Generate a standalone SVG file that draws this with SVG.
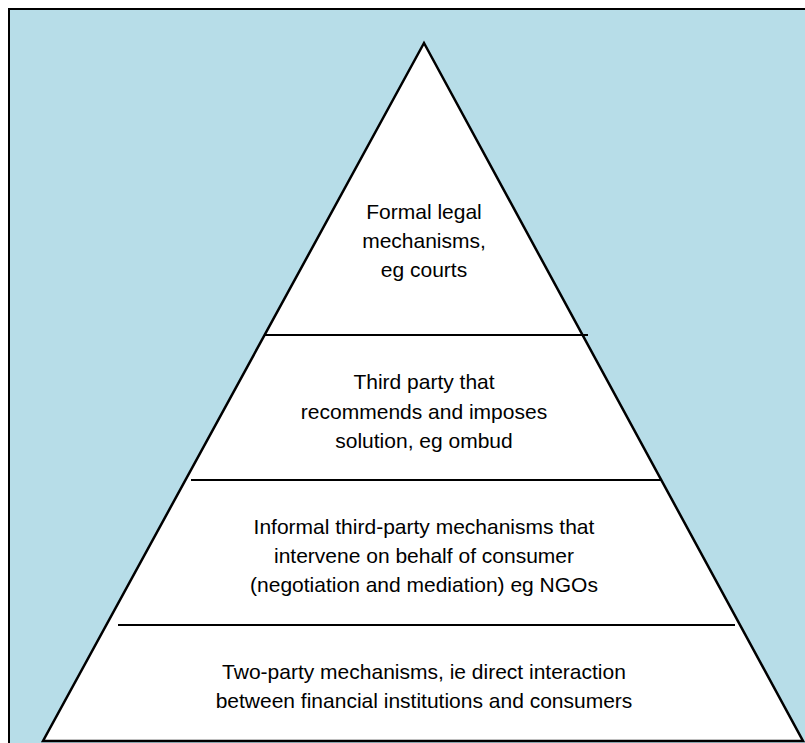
<svg xmlns="http://www.w3.org/2000/svg" width="805" height="743" viewBox="0 0 805 743">
<style>
.t{font-family:"Liberation Sans",Arial,sans-serif;font-size:21px;fill:#000;text-anchor:middle}
.ln{stroke:#000;stroke-width:2;fill:none}
</style>
<rect width="805" height="743" fill="#fff"/>
<rect x="9" y="9" width="800" height="740" fill="#b7dde8" stroke="#000" stroke-width="2"/>
<g id="pyramid">
<polygon points="424,43 43,741 803,741" fill="#fff" stroke="#000" stroke-width="2.5" stroke-linejoin="miter"/>
</g>
<g id="connectors">
<line class="ln" x1="265" y1="335" x2="588" y2="335"/>
<line class="ln" x1="191" y1="480" x2="662" y2="480"/>
<line class="ln" x1="118" y1="625" x2="735" y2="625"/>
</g>
<g id="tier1">
<text class="t" x="424" y="219">Formal legal</text>
<text class="t" x="424" y="248">mechanisms,</text>
<text class="t" x="424" y="277">eg courts</text>
</g>
<g id="tier2">
<text class="t" x="424" y="389">Third party that</text>
<text class="t" x="424" y="419">recommends and imposes</text>
<text class="t" x="424" y="448">solution, eg ombud</text>
</g>
<g id="tier3">
<text class="t" x="424" y="534">Informal third-party mechanisms that</text>
<text class="t" x="424" y="563">intervene on behalf of consumer</text>
<text class="t" x="424" y="592">(negotiation and mediation) eg NGOs</text>
</g>
<g id="tier4">
<text class="t" x="424" y="679">Two-party mechanisms, ie direct interaction</text>
<text class="t" x="424" y="708">between financial institutions and consumers</text>
</g>
</svg>
